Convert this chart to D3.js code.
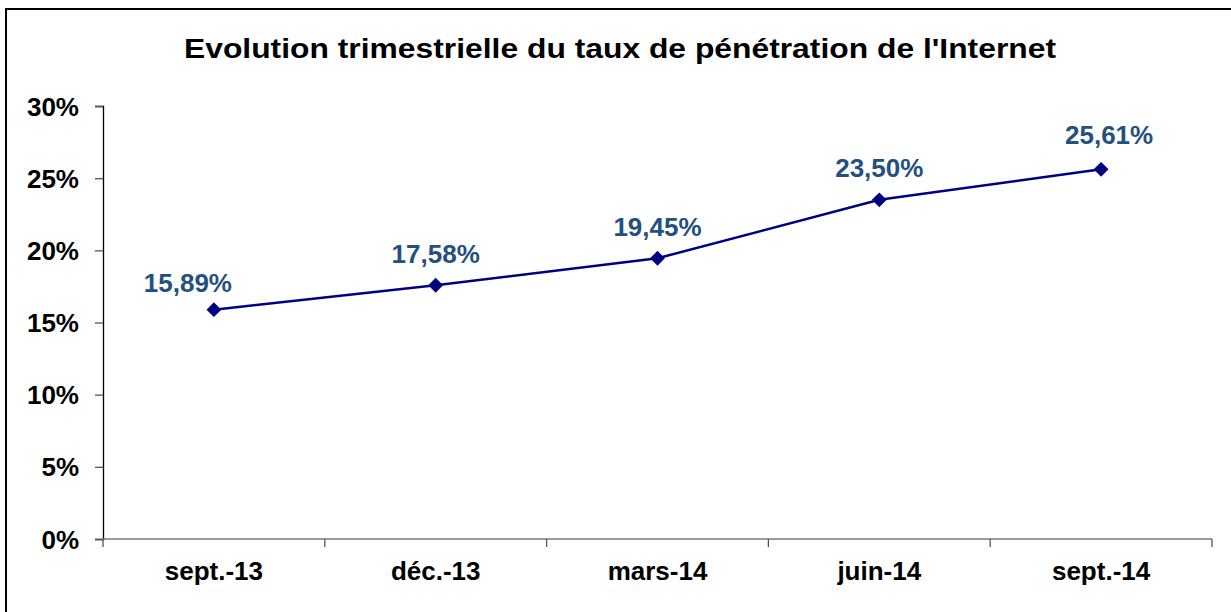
<!DOCTYPE html>
<html lang="fr">
<head>
<meta charset="UTF-8">
<title>Taux de pénétration Internet</title>
<script src="https://d3js.org/d3.v7.min.js"></script>
<style>
  body { margin: 0; background: #fff; }
  svg { display: block; font-family: "Liberation Sans", Arial, sans-serif; }
  .axis text { font-weight: bold; fill: #000; }
</style>
</head>
<body>
<script>
const categories = ["sept.-13", "déc.-13", "mars-14", "juin-14", "sept.-14"];
const values = [15.89, 17.58, 19.45, 23.50, 25.61];
const yTicks = [0, 5, 10, 15, 20, 25, 30];
const title = "Evolution trimestrielle du taux de pénétration de l'Internet";

// hand-placed label nudges (px), as in the source workbook
const labelDx = [-26, 0, 0, 0, 8];
const labelDy = [18, 22, 22, 23, 25];

const W = 1231, H = 612;
const svg = d3.select("body").append("svg").attr("width", W).attr("height", H);

// frame (right and bottom edges fall outside the picture)
svg.append("rect")
  .attr("x", 6).attr("y", 9).attr("width", 1240).attr("height", 620)
  .attr("fill", "none").attr("stroke", "#000").attr("stroke-width", 2);

svg.append("text")
  .attr("x", 620).attr("y", 58)
  .attr("text-anchor", "middle")
  .attr("font-size", 28).attr("font-weight", "bold")
  .attr("textLength", 872).attr("lengthAdjust", "spacingAndGlyphs")
  .text(title);

const plotL = 103, plotR = 1212, plotT = 106, plotB = 539;

const x = d3.scaleBand().domain(categories).range([plotL, plotR]);
const y = d3.scaleLinear().domain([0, 30]).range([plotB, plotT]);
const cx = c => x(c) + x.bandwidth() / 2;

// y axis
const yAxis = svg.append("g").attr("class", "axis")
  .attr("transform", `translate(${plotL},0)`)
  .call(d3.axisLeft(y).tickValues(yTicks).tickFormat(d => d + "%").tickSize(8).tickPadding(16));
yAxis.selectAll("text").attr("font-size", 26).attr("dy", "0.35em");
yAxis.select(".domain").attr("stroke", "#000").attr("stroke-width", 1.3);
yAxis.selectAll(".tick line").attr("stroke", "#555").attr("stroke-width", 1.3);

// x axis: ticks sit between categories
const xg = svg.append("g").attr("class", "axis")
  .attr("transform", `translate(0,${plotB})`);
xg.append("line")
  .attr("x1", plotL).attr("x2", plotR)
  .attr("stroke", "#777").attr("stroke-width", 1.5);
const edges = categories.map(c => x(c)).concat([plotR]);
xg.selectAll(".tk").data(edges).join("line")
  .attr("x1", d => d).attr("x2", d => d)
  .attr("y1", 0).attr("y2", 8)
  .attr("stroke", "#555").attr("stroke-width", 1.3);
xg.selectAll(".lbl").data(categories).join("text")
  .attr("x", d => cx(d))
  .attr("y", 41)
  .attr("text-anchor", "middle")
  .attr("font-size", 26)
  .text(d => d);

// series
const pts = categories.map((c, i) => ({ c, v: values[i], i }));
const line = d3.line()
  .x(d => cx(d.c))
  .y(d => y(d.v));

svg.append("path")
  .datum(pts)
  .attr("d", line)
  .attr("fill", "none")
  .attr("stroke", "#000080")
  .attr("stroke-width", 2.5);

svg.selectAll(".mk").data(pts).join("path")
  .attr("d", d3.symbol(d3.symbolDiamond2, 140))
  .attr("transform", d => `translate(${cx(d.c)},${y(d.v)})`)
  .attr("fill", "#000080");

svg.selectAll(".val").data(pts).join("text")
  .attr("x", d => cx(d.c) + labelDx[d.i])
  .attr("y", d => y(d.v) - labelDy[d.i])
  .attr("text-anchor", "middle")
  .attr("font-size", 26).attr("font-weight", "bold")
  .attr("fill", "#245080")
  .text(d => d.v.toFixed(2).replace(".", ",") + "%");
</script>
</body>
</html>
